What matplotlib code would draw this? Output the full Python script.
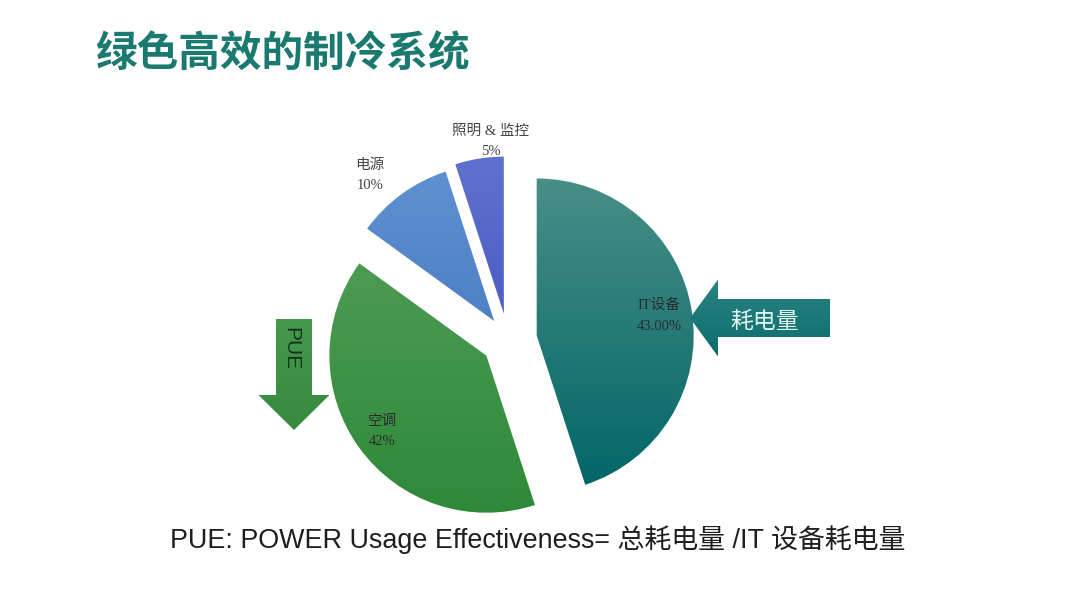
import numpy as np
import matplotlib
matplotlib.use("Agg")
import matplotlib.pyplot as plt
from matplotlib.patches import FancyArrow
from matplotlib.colors import LinearSegmentedColormap

plt.rcParams['font.family'] = ['Liberation Sans', 'Noto Sans CJK SC']

# slice sizes as drawn (the printed labels differ slightly from the geometry)
names = ["IT设备", "空调", "电源", "照明 & 监控"]
sizes = [45, 40, 10, 5]
pct_labels = ["43.00%", "42%", "10%", "5%"]
explode = [0.185, 0.17, 0.15, 0.17]
top_colors = ["#4a8f88", "#55a05a", "#6092d2", "#6072cf"]
bot_colors = ["#006566", "#2d8938", "#3b6fb8", "#3a48b8"]
label_dist = [0.79, 0.82, 1.22, 1.10]
label_turn = [0, 0, 4.5, -4.7]   # degrees, ccw
label_colors = ["#2b2b2b", "#2b2b2b", "#444444", "#444444"]

title = "绿色高效的制冷系统"
formula = "PUE: POWER Usage Effectiveness= 总耗电量 /IT 设备耗电量"

W, H = 1080, 608
fig = plt.figure(figsize=(W / 100, H / 100), dpi=100)
ax = fig.add_axes([0, 0, 1, 1])

R = 157
# pie explode is in data units, so scale by the radius
wedges, _ = ax.pie(sizes, explode=[e * R for e in explode], startangle=90,
                   counterclock=False, radius=R, center=(508, 268),
                   wedgeprops=dict(fc="none", lw=0))


def grad_fill(patch, extent, c_top, c_bot):
    cmap = LinearSegmentedColormap.from_list("g", [c_bot, c_top])
    grad = np.linspace(1, 0, 256).reshape(-1, 1)
    im = ax.imshow(grad, cmap=cmap, extent=extent, aspect="auto",
                   origin="upper", interpolation="bicubic", zorder=1)
    im.set_clip_path(patch)


for i, w in enumerate(wedges):
    cx, cy = w.center
    pad = R + 4
    grad_fill(w, (cx - pad, cx + pad, cy - pad, cy + pad), top_colors[i], bot_colors[i])
    mid = np.deg2rad((w.theta1 + w.theta2) / 2 + label_turn[i])
    lx = cx + label_dist[i] * R * np.cos(mid)
    ly = cy + label_dist[i] * R * np.sin(mid)
    ax.text(lx, ly, names[i] + "\n" + pct_labels[i], ha="center", va="center",
            fontsize=10.5, color=label_colors[i], linespacing=1.75,
            family=["Liberation Serif", "Noto Sans CJK SC"], zorder=3)

# arrow pointing at the IT slice
arr1 = FancyArrow(830, 290, -140, 0, width=38, head_width=77, head_length=28,
                  length_includes_head=True, fc="none", lw=0)
ax.add_patch(arr1)
grad_fill(arr1, (688, 832, 249, 331), "#2a8584", "#0c6c6c")
ax.text(765, 287, "耗电量", ha="center", va="center", fontsize=16.5,
        color="#e2f5f1", family=["Noto Sans CJK SC"], zorder=3)

# PUE arrow
arr2 = FancyArrow(294, 289, 0, -111, width=36, head_width=71, head_length=35,
                  length_includes_head=True, fc="none", lw=0)
ax.add_patch(arr2)
grad_fill(arr2, (256, 332, 176, 291), "#45984c", "#36893f")
ax.text(291, 259, "PUE", ha="center", va="center", rotation=-90, fontsize=15,
        color="#15331a", zorder=3)

ax.text(95, 554, title, ha="left", va="center", fontsize=30, fontweight="bold",
        color="#1b7a70", family=["Noto Sans CJK SC"])
ax.text(538, 68, formula, ha="center", va="center", fontsize=19.4, color="#1e1e1e")

ax.set_autoscale_on(False)
ax.set_xlim(0, W)
ax.set_ylim(0, H)
ax.set_aspect("auto")
ax.axis("off")

fig.savefig("out.png", dpi=100, facecolor="white")
